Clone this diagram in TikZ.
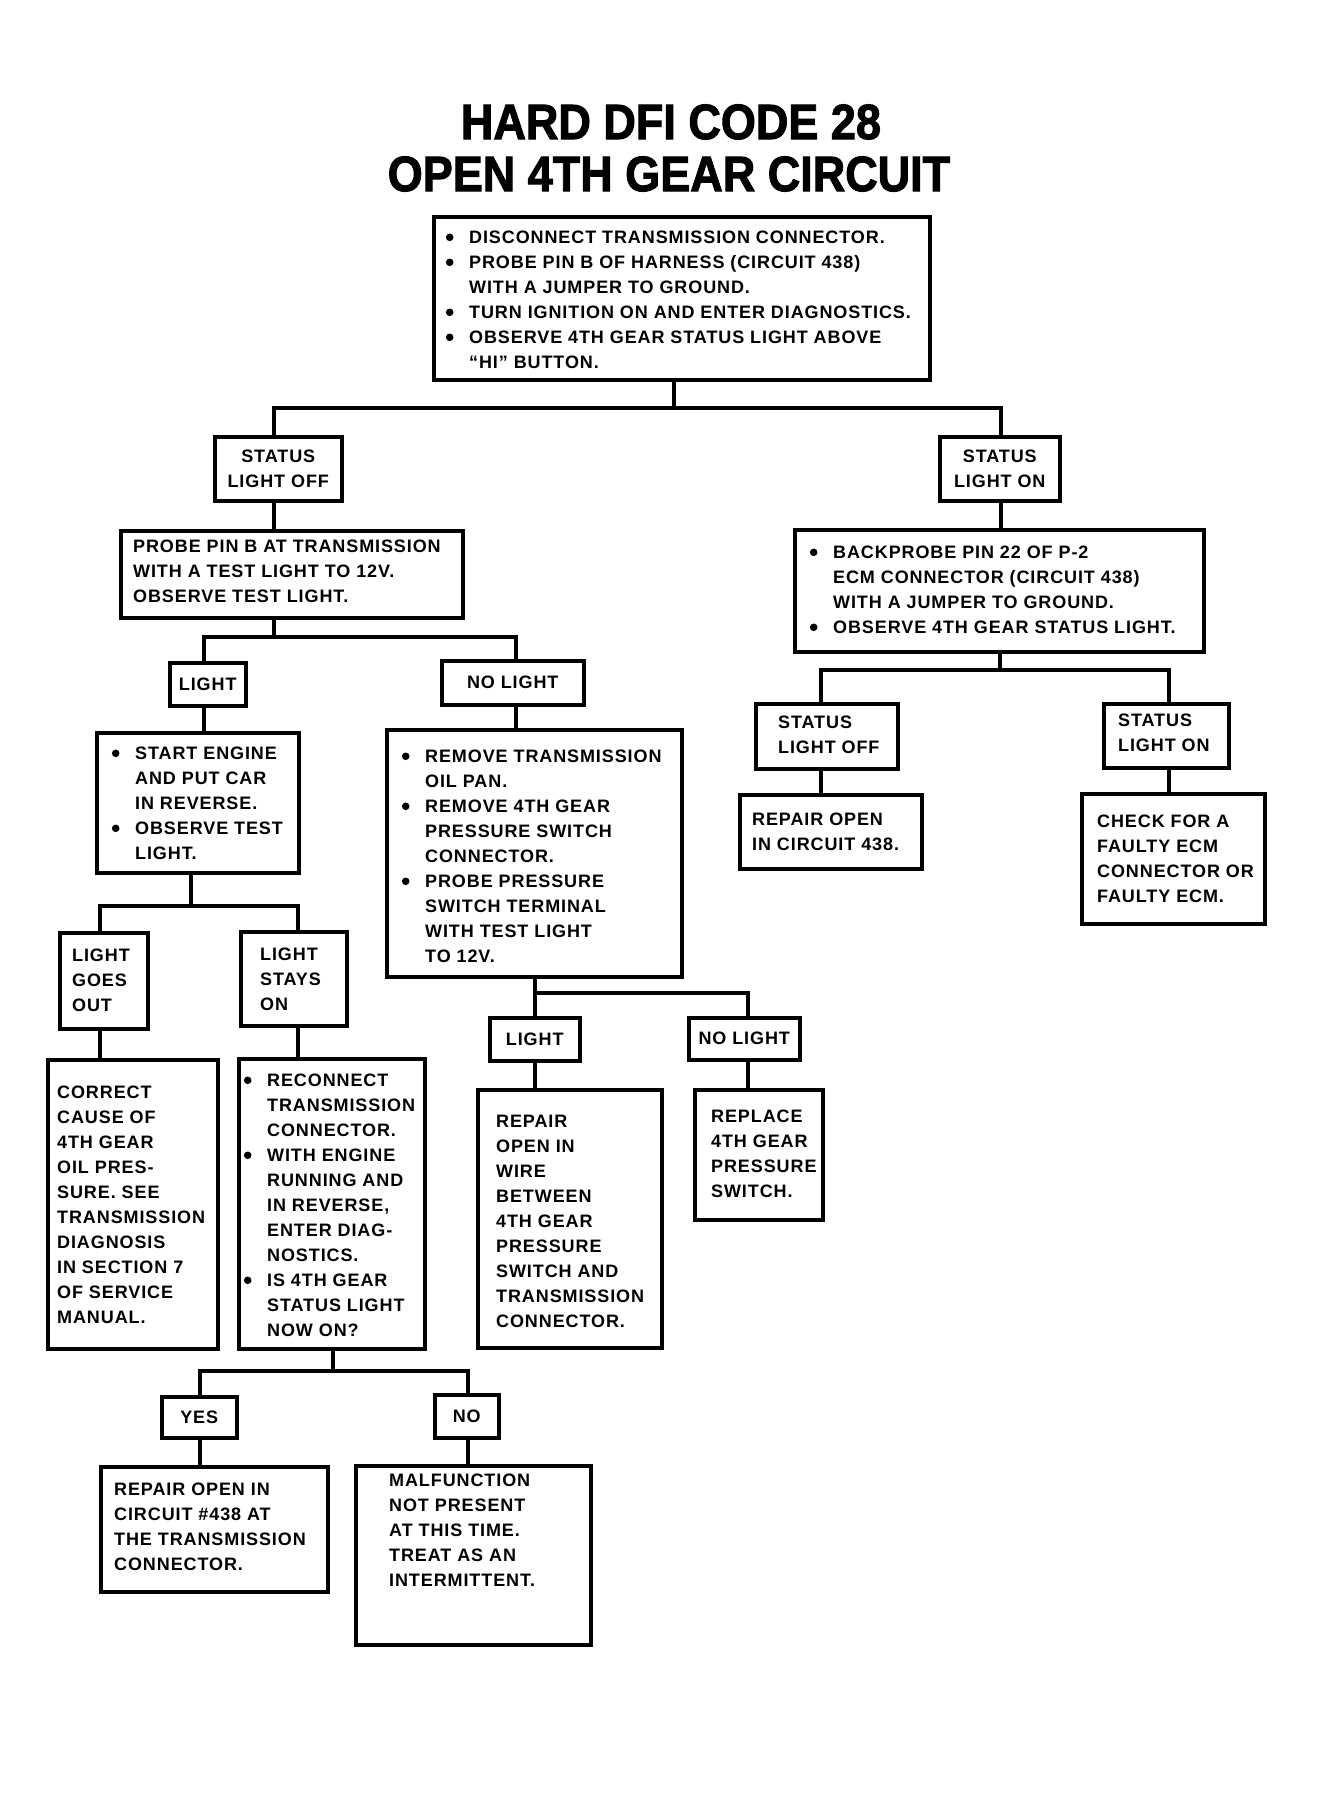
\documentclass[tikz,border=0pt]{standalone}
\usepackage{fontspec}
\setmainfont{Liberation Sans}[LetterSpace=5]
\newfontfamily\titlefont{Liberation Sans}[FakeBold=2.2]
\newcommand\bodyf{\fontsize{18}{25}\selectfont\bfseries}
\newcommand\bl{\llap{\tikz[baseline=0pt]\fill[black] (0pt,6.4pt) circle (3.8pt);\hspace{15.7pt}}}
\newcommand\fs{\rule{0pt}{14pt}}
\tikzset{
  box/.style={draw, line width=3.5pt, rectangle, inner sep=0pt, anchor=north west},
  lab/.style={box, align=center, font=\bodyf},
  txt/.style={anchor=north west, inner sep=0pt, align=left, font=\bodyf},
  conn/.style={line width=3.5pt, line join=miter, line cap=rect},
  ttl/.style={font=\titlefont\bfseries\fontsize{45}{52}\selectfont, yscale=1.1, inner sep=0pt},
}
% box: name, x1, y1, x2, y2
\newcommand\bx[5]{\node[box, minimum width={#4pt-#2pt}, minimum height={#5pt-#3pt}] (#1) at (#2,#3) {};}
% labelled (centred) box
\newcommand\lb[6]{\node[lab, minimum width={#4pt-#2pt}, minimum height={#5pt-#3pt}] (#1) at (#2,#3) {#6};}
% text block: name, x, centre of first line, text
\newcommand\tx[4]{\node[txt] (#1) at (#2,{#3-7.5}) {\fs #4};}
\begin{document}
\begin{tikzpicture}[x=1pt, y=-1pt]
\fill[white] (0,0) rectangle (1338,1818);
\useasboundingbox (0,0) rectangle (1338,1818);

\node[ttl] (title1) at (671,122) {HARD DFI CODE 28};
\node[ttl] (title2) at (669,174) {OPEN 4TH GEAR CIRCUIT};

% boxes
\bx{top}{432}{215}{928}{378}
\tx{topt}{469}{237}{\bl DISCONNECT TRANSMISSION CONNECTOR.\\ \bl PROBE PIN B OF HARNESS (CIRCUIT 438)\\ WITH A JUMPER TO GROUND.\\ \bl TURN IGNITION ON AND ENTER DIAGNOSTICS.\\ \bl OBSERVE 4TH GEAR STATUS LIGHT ABOVE\\ “HI” BUTTON.}

\lb{sloff1}{213}{435}{340}{499}{STATUS\\LIGHT OFF}
\lb{slon1}{938}{435}{1058}{499}{STATUS\\LIGHT ON}

\bx{probe}{119}{529}{461}{616}
\tx{probet}{133}{546}{PROBE PIN B AT TRANSMISSION\\ WITH A TEST LIGHT TO 12V.\\ OBSERVE TEST LIGHT.}

\bx{back}{793}{528}{1202}{650}
\tx{backt}{833}{552}{\bl BACKPROBE PIN 22 OF P-2\\ ECM CONNECTOR (CIRCUIT 438)\\ WITH A JUMPER TO GROUND.\\ \bl OBSERVE 4TH GEAR STATUS LIGHT.}

\lb{light1}{168}{661}{244}{704}{LIGHT}
\lb{nolight1}{440}{659}{582}{703}{NO LIGHT}

\bx{sloff2}{754}{702}{896}{767}
\tx{sloff2t}{778}{722}{STATUS\\ LIGHT OFF}
\bx{slon2}{1102}{702}{1227}{766}
\tx{slon2t}{1118}{720}{STATUS\\ LIGHT ON}

\bx{rep438}{738}{793}{920}{867}
\tx{rep438tx}{752}{819}{REPAIR OPEN\\ IN CIRCUIT 438.}
\bx{check}{1080}{792}{1263}{922}
\tx{checkt}{1097}{821}{CHECK FOR A\\ FAULTY ECM\\ CONNECTOR OR\\ FAULTY ECM.}

\bx{start}{95}{731}{297}{871}
\tx{startt}{135}{753}{\bl START ENGINE\\ AND PUT CAR\\ IN REVERSE.\\ \bl OBSERVE TEST\\ LIGHT.}

\bx{remove}{385}{728}{680}{975}
\tx{removet}{425}{756}{\bl REMOVE TRANSMISSION\\ OIL PAN.\\ \bl REMOVE 4TH GEAR\\ PRESSURE SWITCH\\ CONNECTOR.\\ \bl PROBE PRESSURE\\ SWITCH TERMINAL\\ WITH TEST LIGHT\\ TO 12V.}

\bx{lgo}{58}{931}{146}{1027}
\tx{lgot}{72}{955}{LIGHT\\ GOES\\ OUT}
\bx{lso}{239}{930}{345}{1024}
\tx{lsot}{260}{954}{LIGHT\\ STAYS\\ ON}

\bx{correct}{46}{1058}{216}{1347}
\tx{correctt}{57}{1092}{CORRECT\\ CAUSE OF\\ 4TH GEAR\\ OIL PRES-\\ SURE. SEE\\ TRANSMISSION\\ DIAGNOSIS\\ IN SECTION 7\\ OF SERVICE\\ MANUAL.}

\bx{recon}{237}{1057}{423}{1347}
\tx{recont}{267}{1080}{\bl RECONNECT\\ TRANSMISSION\\ CONNECTOR.\\ \bl WITH ENGINE\\ RUNNING AND\\ IN REVERSE,\\ ENTER DIAG-\\ NOSTICS.\\ \bl IS 4TH GEAR\\ STATUS LIGHT\\ NOW ON?}

\lb{light2}{488}{1016}{578}{1059}{LIGHT}
\lb{nolight2}{687}{1016}{798}{1058}{NO LIGHT}

\bx{repwire}{476}{1088}{660}{1346}
\tx{repwiret}{496}{1121}{REPAIR\\ OPEN IN\\ WIRE\\ BETWEEN\\ 4TH GEAR\\ PRESSURE\\ SWITCH AND\\ TRANSMISSION\\ CONNECTOR.}
\bx{replace}{693}{1088}{821}{1218}
\tx{replacet}{711}{1116}{REPLACE\\ 4TH GEAR\\ PRESSURE\\ SWITCH.}

\lb{yes}{160}{1395}{235}{1436}{YES}
\lb{no}{433}{1393}{497}{1436}{NO}

\bx{rept}{99}{1465}{326}{1590}
\tx{reptt}{114}{1489}{REPAIR OPEN IN\\ CIRCUIT \#438 AT\\ THE TRANSMISSION\\ CONNECTOR.}
\bx{malf}{354}{1464}{589}{1643}
\tx{malft}{389}{1480}{MALFUNCTION\\ NOT PRESENT\\ AT THIS TIME.\\ TREAT AS AN\\ INTERMITTENT.}

% junction coordinates
\coordinate (a0) at (674,408); \coordinate (aL) at (274,408); \coordinate (aR) at (1001,408);
\coordinate (b0) at (274,637); \coordinate (bL) at (204,637); \coordinate (bR) at (516,637);
\coordinate (c0) at (1000,670); \coordinate (cL) at (821,670); \coordinate (cR) at (1169,670);
\coordinate (d0) at (191,906); \coordinate (dL) at (100,906); \coordinate (dR) at (298,906);
\coordinate (e0) at (535,993); \coordinate (eR) at (748,993);
\coordinate (f0) at (333,1371); \coordinate (fL) at (200,1371); \coordinate (fR) at (468,1371);

% connectors
\draw[conn] (top.south -| a0) -- (a0);
\draw[conn] (sloff1.north -| aL) -- (aL) -- (aR) -- (slon1.north -| aR);
\draw[conn] (sloff1.south -| aL) -- (probe.north -| aL);
\draw[conn] (slon1.south -| aR) -- (back.north -| aR);

\draw[conn] (probe.south -| b0) -- (b0);
\draw[conn] (light1.north -| bL) -- (bL) -- (bR) -- (nolight1.north -| bR);
\draw[conn] (light1.south -| bL) -- (start.north -| bL);
\draw[conn] (nolight1.south -| bR) -- (remove.north -| bR);

\draw[conn] (back.south -| c0) -- (c0);
\draw[conn] (sloff2.north -| cL) -- (cL) -- (cR) -- (slon2.north -| cR);
\draw[conn] (sloff2.south -| cL) -- (rep438.north -| cL);
\draw[conn] (slon2.south -| cR) -- (check.north -| cR);

\draw[conn] (start.south -| d0) -- (d0);
\draw[conn] (lgo.north -| dL) -- (dL) -- (dR) -- (lso.north -| dR);
\draw[conn] (lgo.south -| dL) -- (correct.north -| dL);
\draw[conn] (lso.south -| dR) -- (recon.north -| dR);

\draw[conn] (remove.south -| e0) -- (light2.north -| e0);
\draw[conn] (e0) -- (eR) -- (nolight2.north -| eR);
\draw[conn] (light2.south -| e0) -- (repwire.north -| e0);
\draw[conn] (nolight2.south -| eR) -- (replace.north -| eR);

\draw[conn] (recon.south -| f0) -- (f0);
\draw[conn] (yes.north -| fL) -- (fL) -- (fR) -- (no.north -| fR);
\draw[conn] (yes.south -| fL) -- (rept.north -| fL);
\draw[conn] (no.south -| fR) -- (malf.north -| fR);
\end{tikzpicture}
\end{document}
